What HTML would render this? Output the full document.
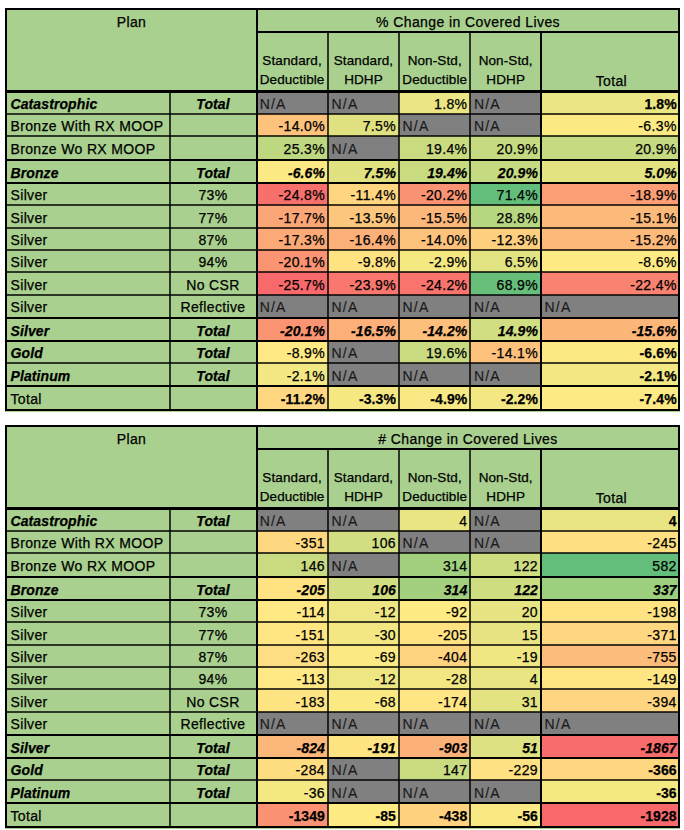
<!DOCTYPE html>
<html><head><meta charset="utf-8"><style>
html,body{margin:0;padding:0;background:#fff;width:684px;height:830px;overflow:hidden;position:relative}
.t{position:absolute;font-family:"Liberation Sans", sans-serif;color:#000;line-height:1.15;white-space:nowrap;-webkit-text-stroke:0.25px #000;}
</style></head><body>
<div style="position:absolute;left:5.00px;top:8.00px;width:675.00px;height:403.50px;background:#A9D08E;"></div>
<div style="position:absolute;left:256.20px;top:91.60px;width:71.80px;height:22.30px;background:#808080;"></div>
<div style="position:absolute;left:328.00px;top:91.60px;width:71.00px;height:22.30px;background:#808080;"></div>
<div style="position:absolute;left:399.00px;top:91.60px;width:71.40px;height:22.30px;background:#ebe583;"></div>
<div style="position:absolute;left:470.40px;top:91.60px;width:70.60px;height:22.30px;background:#808080;"></div>
<div style="position:absolute;left:541.00px;top:91.60px;width:137.70px;height:22.30px;background:#ebe583;"></div>
<div style="position:absolute;left:256.20px;top:113.90px;width:71.80px;height:22.10px;background:#fdc27c;"></div>
<div style="position:absolute;left:328.00px;top:113.90px;width:71.00px;height:22.10px;background:#e0e282;"></div>
<div style="position:absolute;left:399.00px;top:113.90px;width:71.40px;height:22.10px;background:#808080;"></div>
<div style="position:absolute;left:470.40px;top:113.90px;width:70.60px;height:22.10px;background:#808080;"></div>
<div style="position:absolute;left:541.00px;top:113.90px;width:137.70px;height:22.10px;background:#fbea84;"></div>
<div style="position:absolute;left:256.20px;top:136.00px;width:71.80px;height:23.90px;background:#bdd880;"></div>
<div style="position:absolute;left:328.00px;top:136.00px;width:71.00px;height:23.90px;background:#808080;"></div>
<div style="position:absolute;left:399.00px;top:136.00px;width:71.40px;height:23.90px;background:#c8db81;"></div>
<div style="position:absolute;left:470.40px;top:136.00px;width:70.60px;height:23.90px;background:#c5da81;"></div>
<div style="position:absolute;left:541.00px;top:136.00px;width:137.70px;height:23.90px;background:#c5da81;"></div>
<div style="position:absolute;left:256.20px;top:159.90px;width:71.80px;height:23.20px;background:#fbea84;"></div>
<div style="position:absolute;left:328.00px;top:159.90px;width:71.00px;height:23.20px;background:#e0e282;"></div>
<div style="position:absolute;left:399.00px;top:159.90px;width:71.40px;height:23.20px;background:#c8db81;"></div>
<div style="position:absolute;left:470.40px;top:159.90px;width:70.60px;height:23.20px;background:#c5da81;"></div>
<div style="position:absolute;left:541.00px;top:159.90px;width:137.70px;height:23.20px;background:#e4e382;"></div>
<div style="position:absolute;left:256.20px;top:183.10px;width:71.80px;height:22.10px;background:#f8706c;"></div>
<div style="position:absolute;left:328.00px;top:183.10px;width:71.00px;height:22.10px;background:#fed680;"></div>
<div style="position:absolute;left:399.00px;top:183.10px;width:71.40px;height:22.10px;background:#fa9373;"></div>
<div style="position:absolute;left:470.40px;top:183.10px;width:70.60px;height:22.10px;background:#63be7b;"></div>
<div style="position:absolute;left:541.00px;top:183.10px;width:137.70px;height:22.10px;background:#fb9d75;"></div>
<div style="position:absolute;left:256.20px;top:205.20px;width:71.80px;height:22.60px;background:#fba677;"></div>
<div style="position:absolute;left:328.00px;top:205.20px;width:71.00px;height:22.60px;background:#fdc67d;"></div>
<div style="position:absolute;left:399.00px;top:205.20px;width:71.40px;height:22.60px;background:#fcb77a;"></div>
<div style="position:absolute;left:470.40px;top:205.20px;width:70.60px;height:22.60px;background:#b6d680;"></div>
<div style="position:absolute;left:541.00px;top:205.20px;width:137.70px;height:22.60px;background:#fcba7a;"></div>
<div style="position:absolute;left:256.20px;top:227.80px;width:71.80px;height:22.10px;background:#fba977;"></div>
<div style="position:absolute;left:328.00px;top:227.80px;width:71.00px;height:22.10px;background:#fcb079;"></div>
<div style="position:absolute;left:399.00px;top:227.80px;width:71.40px;height:22.10px;background:#fdc27c;"></div>
<div style="position:absolute;left:470.40px;top:227.80px;width:70.60px;height:22.10px;background:#fdcf7f;"></div>
<div style="position:absolute;left:541.00px;top:227.80px;width:137.70px;height:22.10px;background:#fcb97a;"></div>
<div style="position:absolute;left:256.20px;top:249.90px;width:71.80px;height:22.50px;background:#fa9473;"></div>
<div style="position:absolute;left:328.00px;top:249.90px;width:71.00px;height:22.50px;background:#ffe282;"></div>
<div style="position:absolute;left:399.00px;top:249.90px;width:71.40px;height:22.50px;background:#f4e883;"></div>
<div style="position:absolute;left:470.40px;top:249.90px;width:70.60px;height:22.50px;background:#e2e382;"></div>
<div style="position:absolute;left:541.00px;top:249.90px;width:137.70px;height:22.50px;background:#ffeb84;"></div>
<div style="position:absolute;left:256.20px;top:272.40px;width:71.80px;height:22.25px;background:#f8696b;"></div>
<div style="position:absolute;left:328.00px;top:272.40px;width:71.00px;height:22.25px;background:#f9776e;"></div>
<div style="position:absolute;left:399.00px;top:272.40px;width:71.40px;height:22.25px;background:#f9746d;"></div>
<div style="position:absolute;left:470.40px;top:272.40px;width:70.60px;height:22.25px;background:#68bf7b;"></div>
<div style="position:absolute;left:541.00px;top:272.40px;width:137.70px;height:22.25px;background:#f98270;"></div>
<div style="position:absolute;left:256.20px;top:294.65px;width:71.80px;height:23.15px;background:#808080;"></div>
<div style="position:absolute;left:328.00px;top:294.65px;width:71.00px;height:23.15px;background:#808080;"></div>
<div style="position:absolute;left:399.00px;top:294.65px;width:71.40px;height:23.15px;background:#808080;"></div>
<div style="position:absolute;left:470.40px;top:294.65px;width:70.60px;height:23.15px;background:#808080;"></div>
<div style="position:absolute;left:541.00px;top:294.65px;width:137.70px;height:23.15px;background:#808080;"></div>
<div style="position:absolute;left:256.20px;top:317.80px;width:71.80px;height:23.20px;background:#fa9473;"></div>
<div style="position:absolute;left:328.00px;top:317.80px;width:71.00px;height:23.20px;background:#fcaf78;"></div>
<div style="position:absolute;left:399.00px;top:317.80px;width:71.40px;height:23.20px;background:#fdc07c;"></div>
<div style="position:absolute;left:470.40px;top:317.80px;width:70.60px;height:23.20px;background:#d1de81;"></div>
<div style="position:absolute;left:541.00px;top:317.80px;width:137.70px;height:23.20px;background:#fcb67a;"></div>
<div style="position:absolute;left:256.20px;top:341.00px;width:71.80px;height:22.20px;background:#ffe984;"></div>
<div style="position:absolute;left:328.00px;top:341.00px;width:71.00px;height:22.20px;background:#808080;"></div>
<div style="position:absolute;left:399.00px;top:341.00px;width:71.40px;height:22.20px;background:#c8db81;"></div>
<div style="position:absolute;left:470.40px;top:341.00px;width:70.60px;height:22.20px;background:#fdc17c;"></div>
<div style="position:absolute;left:541.00px;top:341.00px;width:137.70px;height:22.20px;background:#fbea84;"></div>
<div style="position:absolute;left:256.20px;top:363.20px;width:71.80px;height:22.90px;background:#f2e783;"></div>
<div style="position:absolute;left:328.00px;top:363.20px;width:71.00px;height:22.90px;background:#808080;"></div>
<div style="position:absolute;left:399.00px;top:363.20px;width:71.40px;height:22.90px;background:#808080;"></div>
<div style="position:absolute;left:470.40px;top:363.20px;width:70.60px;height:22.90px;background:#808080;"></div>
<div style="position:absolute;left:541.00px;top:363.20px;width:137.70px;height:22.90px;background:#f2e783;"></div>
<div style="position:absolute;left:256.20px;top:386.10px;width:71.80px;height:23.40px;background:#fed780;"></div>
<div style="position:absolute;left:328.00px;top:386.10px;width:71.00px;height:23.40px;background:#f5e883;"></div>
<div style="position:absolute;left:399.00px;top:386.10px;width:71.40px;height:23.40px;background:#f8e984;"></div>
<div style="position:absolute;left:470.40px;top:386.10px;width:70.60px;height:23.40px;background:#f3e783;"></div>
<div style="position:absolute;left:541.00px;top:386.10px;width:137.70px;height:23.40px;background:#fdea84;"></div>
<div class="t" style="left:7.00px;top:14.00px;width:249.00px;text-align:center;font-size:14px;font-weight:normal;font-style:normal;letter-spacing:0.35px;">Plan</div>
<div class="t" style="left:257.00px;top:14.00px;width:422.00px;text-align:center;font-size:14px;font-weight:normal;font-style:normal;letter-spacing:0.42px;">% Change in Covered Lives</div>
<div class="t" style="left:257.20px;top:53.26px;width:69.80px;text-align:center;font-size:13.5px;font-weight:normal;font-style:normal;letter-spacing:0.1px;">Standard,</div>
<div class="t" style="left:257.20px;top:72.16px;width:69.80px;text-align:center;font-size:13.5px;font-weight:normal;font-style:normal;letter-spacing:0.1px;">Deductible</div>
<div class="t" style="left:329.00px;top:53.26px;width:69.00px;text-align:center;font-size:13.5px;font-weight:normal;font-style:normal;letter-spacing:0.1px;">Standard,</div>
<div class="t" style="left:329.00px;top:72.16px;width:69.00px;text-align:center;font-size:13.5px;font-weight:normal;font-style:normal;letter-spacing:0.1px;">HDHP</div>
<div class="t" style="left:400.00px;top:53.26px;width:69.40px;text-align:center;font-size:13.5px;font-weight:normal;font-style:normal;letter-spacing:0.1px;">Non-Std,</div>
<div class="t" style="left:400.00px;top:72.16px;width:69.40px;text-align:center;font-size:13.5px;font-weight:normal;font-style:normal;letter-spacing:0.1px;">Deductible</div>
<div class="t" style="left:471.40px;top:53.26px;width:68.60px;text-align:center;font-size:13.5px;font-weight:normal;font-style:normal;letter-spacing:0.1px;">Non-Std,</div>
<div class="t" style="left:471.40px;top:72.16px;width:68.60px;text-align:center;font-size:13.5px;font-weight:normal;font-style:normal;letter-spacing:0.1px;">HDHP</div>
<div class="t" style="left:544.00px;top:72.90px;width:134.70px;text-align:center;font-size:14px;font-weight:normal;font-style:normal;letter-spacing:0.35px;">Total</div>
<div class="t" style="left:10.50px;top:95.85px;width:159.50px;text-align:left;font-size:14px;font-weight:bold;font-style:italic;letter-spacing:0.1px;">Catastrophic</div>
<div class="t" style="left:170.00px;top:95.85px;width:86.00px;text-align:center;font-size:14px;font-weight:bold;font-style:italic;letter-spacing:0.1px;">Total</div>
<div class="t" style="left:259.70px;top:95.85px;width:68.30px;text-align:left;font-size:14px;font-weight:normal;font-style:normal;letter-spacing:1.2px;color:#1a1a1a;-webkit-text-stroke:0.15px #1a1a1a">N/A</div>
<div class="t" style="left:331.50px;top:95.85px;width:67.50px;text-align:left;font-size:14px;font-weight:normal;font-style:normal;letter-spacing:1.2px;color:#1a1a1a;-webkit-text-stroke:0.15px #1a1a1a">N/A</div>
<div class="t" style="left:399.00px;top:95.85px;width:68.40px;text-align:right;font-size:14px;font-weight:normal;font-style:normal;letter-spacing:0.35px;">1.8%</div>
<div class="t" style="left:473.90px;top:95.85px;width:67.10px;text-align:left;font-size:14px;font-weight:normal;font-style:normal;letter-spacing:1.2px;color:#1a1a1a;-webkit-text-stroke:0.15px #1a1a1a">N/A</div>
<div class="t" style="left:541.00px;top:95.85px;width:135.70px;text-align:right;font-size:14px;font-weight:bold;font-style:normal;letter-spacing:0.1px;">1.8%</div>
<div class="t" style="left:10.50px;top:118.05px;width:159.50px;text-align:left;font-size:14px;font-weight:normal;font-style:normal;letter-spacing:0.35px;">Bronze With RX MOOP</div>
<div class="t" style="left:256.20px;top:118.05px;width:68.80px;text-align:right;font-size:14px;font-weight:normal;font-style:normal;letter-spacing:0.35px;">-14.0%</div>
<div class="t" style="left:328.00px;top:118.05px;width:68.00px;text-align:right;font-size:14px;font-weight:normal;font-style:normal;letter-spacing:0.35px;">7.5%</div>
<div class="t" style="left:402.50px;top:118.05px;width:67.90px;text-align:left;font-size:14px;font-weight:normal;font-style:normal;letter-spacing:1.2px;color:#1a1a1a;-webkit-text-stroke:0.15px #1a1a1a">N/A</div>
<div class="t" style="left:473.90px;top:118.05px;width:67.10px;text-align:left;font-size:14px;font-weight:normal;font-style:normal;letter-spacing:1.2px;color:#1a1a1a;-webkit-text-stroke:0.15px #1a1a1a">N/A</div>
<div class="t" style="left:541.00px;top:118.05px;width:135.70px;text-align:right;font-size:14px;font-weight:normal;font-style:normal;letter-spacing:0.35px;">-6.3%</div>
<div class="t" style="left:10.50px;top:141.05px;width:159.50px;text-align:left;font-size:14px;font-weight:normal;font-style:normal;letter-spacing:0.35px;">Bronze Wo RX MOOP</div>
<div class="t" style="left:256.20px;top:141.05px;width:68.80px;text-align:right;font-size:14px;font-weight:normal;font-style:normal;letter-spacing:0.35px;">25.3%</div>
<div class="t" style="left:331.50px;top:141.05px;width:67.50px;text-align:left;font-size:14px;font-weight:normal;font-style:normal;letter-spacing:1.2px;color:#1a1a1a;-webkit-text-stroke:0.15px #1a1a1a">N/A</div>
<div class="t" style="left:399.00px;top:141.05px;width:68.40px;text-align:right;font-size:14px;font-weight:normal;font-style:normal;letter-spacing:0.35px;">19.4%</div>
<div class="t" style="left:470.40px;top:141.05px;width:67.60px;text-align:right;font-size:14px;font-weight:normal;font-style:normal;letter-spacing:0.35px;">20.9%</div>
<div class="t" style="left:541.00px;top:141.05px;width:135.70px;text-align:right;font-size:14px;font-weight:normal;font-style:normal;letter-spacing:0.35px;">20.9%</div>
<div class="t" style="left:10.50px;top:164.60px;width:159.50px;text-align:left;font-size:14px;font-weight:bold;font-style:italic;letter-spacing:0.1px;">Bronze</div>
<div class="t" style="left:170.00px;top:164.60px;width:86.00px;text-align:center;font-size:14px;font-weight:bold;font-style:italic;letter-spacing:0.1px;">Total</div>
<div class="t" style="left:256.20px;top:164.60px;width:68.80px;text-align:right;font-size:14px;font-weight:bold;font-style:italic;letter-spacing:0.1px;">-6.6%</div>
<div class="t" style="left:328.00px;top:164.60px;width:68.00px;text-align:right;font-size:14px;font-weight:bold;font-style:italic;letter-spacing:0.1px;">7.5%</div>
<div class="t" style="left:399.00px;top:164.60px;width:68.40px;text-align:right;font-size:14px;font-weight:bold;font-style:italic;letter-spacing:0.1px;">19.4%</div>
<div class="t" style="left:470.40px;top:164.60px;width:67.60px;text-align:right;font-size:14px;font-weight:bold;font-style:italic;letter-spacing:0.1px;">20.9%</div>
<div class="t" style="left:541.00px;top:164.60px;width:135.70px;text-align:right;font-size:14px;font-weight:bold;font-style:italic;letter-spacing:0.1px;">5.0%</div>
<div class="t" style="left:10.50px;top:187.25px;width:159.50px;text-align:left;font-size:14px;font-weight:normal;font-style:normal;letter-spacing:0.35px;">Silver</div>
<div class="t" style="left:170.00px;top:187.25px;width:86.00px;text-align:center;font-size:14px;font-weight:normal;font-style:normal;letter-spacing:0.35px;">73%</div>
<div class="t" style="left:256.20px;top:187.25px;width:68.80px;text-align:right;font-size:14px;font-weight:normal;font-style:normal;letter-spacing:0.35px;">-24.8%</div>
<div class="t" style="left:328.00px;top:187.25px;width:68.00px;text-align:right;font-size:14px;font-weight:normal;font-style:normal;letter-spacing:0.35px;">-11.4%</div>
<div class="t" style="left:399.00px;top:187.25px;width:68.40px;text-align:right;font-size:14px;font-weight:normal;font-style:normal;letter-spacing:0.35px;">-20.2%</div>
<div class="t" style="left:470.40px;top:187.25px;width:67.60px;text-align:right;font-size:14px;font-weight:normal;font-style:normal;letter-spacing:0.35px;">71.4%</div>
<div class="t" style="left:541.00px;top:187.25px;width:135.70px;text-align:right;font-size:14px;font-weight:normal;font-style:normal;letter-spacing:0.35px;">-18.9%</div>
<div class="t" style="left:10.50px;top:209.60px;width:159.50px;text-align:left;font-size:14px;font-weight:normal;font-style:normal;letter-spacing:0.35px;">Silver</div>
<div class="t" style="left:170.00px;top:209.60px;width:86.00px;text-align:center;font-size:14px;font-weight:normal;font-style:normal;letter-spacing:0.35px;">77%</div>
<div class="t" style="left:256.20px;top:209.60px;width:68.80px;text-align:right;font-size:14px;font-weight:normal;font-style:normal;letter-spacing:0.35px;">-17.7%</div>
<div class="t" style="left:328.00px;top:209.60px;width:68.00px;text-align:right;font-size:14px;font-weight:normal;font-style:normal;letter-spacing:0.35px;">-13.5%</div>
<div class="t" style="left:399.00px;top:209.60px;width:68.40px;text-align:right;font-size:14px;font-weight:normal;font-style:normal;letter-spacing:0.35px;">-15.5%</div>
<div class="t" style="left:470.40px;top:209.60px;width:67.60px;text-align:right;font-size:14px;font-weight:normal;font-style:normal;letter-spacing:0.35px;">28.8%</div>
<div class="t" style="left:541.00px;top:209.60px;width:135.70px;text-align:right;font-size:14px;font-weight:normal;font-style:normal;letter-spacing:0.35px;">-15.1%</div>
<div class="t" style="left:10.50px;top:231.95px;width:159.50px;text-align:left;font-size:14px;font-weight:normal;font-style:normal;letter-spacing:0.35px;">Silver</div>
<div class="t" style="left:170.00px;top:231.95px;width:86.00px;text-align:center;font-size:14px;font-weight:normal;font-style:normal;letter-spacing:0.35px;">87%</div>
<div class="t" style="left:256.20px;top:231.95px;width:68.80px;text-align:right;font-size:14px;font-weight:normal;font-style:normal;letter-spacing:0.35px;">-17.3%</div>
<div class="t" style="left:328.00px;top:231.95px;width:68.00px;text-align:right;font-size:14px;font-weight:normal;font-style:normal;letter-spacing:0.35px;">-16.4%</div>
<div class="t" style="left:399.00px;top:231.95px;width:68.40px;text-align:right;font-size:14px;font-weight:normal;font-style:normal;letter-spacing:0.35px;">-14.0%</div>
<div class="t" style="left:470.40px;top:231.95px;width:67.60px;text-align:right;font-size:14px;font-weight:normal;font-style:normal;letter-spacing:0.35px;">-12.3%</div>
<div class="t" style="left:541.00px;top:231.95px;width:135.70px;text-align:right;font-size:14px;font-weight:normal;font-style:normal;letter-spacing:0.35px;">-15.2%</div>
<div class="t" style="left:10.50px;top:254.25px;width:159.50px;text-align:left;font-size:14px;font-weight:normal;font-style:normal;letter-spacing:0.35px;">Silver</div>
<div class="t" style="left:170.00px;top:254.25px;width:86.00px;text-align:center;font-size:14px;font-weight:normal;font-style:normal;letter-spacing:0.35px;">94%</div>
<div class="t" style="left:256.20px;top:254.25px;width:68.80px;text-align:right;font-size:14px;font-weight:normal;font-style:normal;letter-spacing:0.35px;">-20.1%</div>
<div class="t" style="left:328.00px;top:254.25px;width:68.00px;text-align:right;font-size:14px;font-weight:normal;font-style:normal;letter-spacing:0.35px;">-9.8%</div>
<div class="t" style="left:399.00px;top:254.25px;width:68.40px;text-align:right;font-size:14px;font-weight:normal;font-style:normal;letter-spacing:0.35px;">-2.9%</div>
<div class="t" style="left:470.40px;top:254.25px;width:67.60px;text-align:right;font-size:14px;font-weight:normal;font-style:normal;letter-spacing:0.35px;">6.5%</div>
<div class="t" style="left:541.00px;top:254.25px;width:135.70px;text-align:right;font-size:14px;font-weight:normal;font-style:normal;letter-spacing:0.35px;">-8.6%</div>
<div class="t" style="left:10.50px;top:276.62px;width:159.50px;text-align:left;font-size:14px;font-weight:normal;font-style:normal;letter-spacing:0.35px;">Silver</div>
<div class="t" style="left:170.00px;top:276.62px;width:86.00px;text-align:center;font-size:14px;font-weight:normal;font-style:normal;letter-spacing:0.35px;">No CSR</div>
<div class="t" style="left:256.20px;top:276.62px;width:68.80px;text-align:right;font-size:14px;font-weight:normal;font-style:normal;letter-spacing:0.35px;">-25.7%</div>
<div class="t" style="left:328.00px;top:276.62px;width:68.00px;text-align:right;font-size:14px;font-weight:normal;font-style:normal;letter-spacing:0.35px;">-23.9%</div>
<div class="t" style="left:399.00px;top:276.62px;width:68.40px;text-align:right;font-size:14px;font-weight:normal;font-style:normal;letter-spacing:0.35px;">-24.2%</div>
<div class="t" style="left:470.40px;top:276.62px;width:67.60px;text-align:right;font-size:14px;font-weight:normal;font-style:normal;letter-spacing:0.35px;">68.9%</div>
<div class="t" style="left:541.00px;top:276.62px;width:135.70px;text-align:right;font-size:14px;font-weight:normal;font-style:normal;letter-spacing:0.35px;">-22.4%</div>
<div class="t" style="left:10.50px;top:299.32px;width:159.50px;text-align:left;font-size:14px;font-weight:normal;font-style:normal;letter-spacing:0.35px;">Silver</div>
<div class="t" style="left:170.00px;top:299.32px;width:86.00px;text-align:center;font-size:14px;font-weight:normal;font-style:normal;letter-spacing:0.35px;">Reflective</div>
<div class="t" style="left:259.70px;top:299.32px;width:68.30px;text-align:left;font-size:14px;font-weight:normal;font-style:normal;letter-spacing:1.2px;color:#1a1a1a;-webkit-text-stroke:0.15px #1a1a1a">N/A</div>
<div class="t" style="left:331.50px;top:299.32px;width:67.50px;text-align:left;font-size:14px;font-weight:normal;font-style:normal;letter-spacing:1.2px;color:#1a1a1a;-webkit-text-stroke:0.15px #1a1a1a">N/A</div>
<div class="t" style="left:402.50px;top:299.32px;width:67.90px;text-align:left;font-size:14px;font-weight:normal;font-style:normal;letter-spacing:1.2px;color:#1a1a1a;-webkit-text-stroke:0.15px #1a1a1a">N/A</div>
<div class="t" style="left:473.90px;top:299.32px;width:67.10px;text-align:left;font-size:14px;font-weight:normal;font-style:normal;letter-spacing:1.2px;color:#1a1a1a;-webkit-text-stroke:0.15px #1a1a1a">N/A</div>
<div class="t" style="left:544.50px;top:299.32px;width:134.20px;text-align:left;font-size:14px;font-weight:normal;font-style:normal;letter-spacing:1.2px;color:#1a1a1a;-webkit-text-stroke:0.15px #1a1a1a">N/A</div>
<div class="t" style="left:10.50px;top:322.50px;width:159.50px;text-align:left;font-size:14px;font-weight:bold;font-style:italic;letter-spacing:0.1px;">Silver</div>
<div class="t" style="left:170.00px;top:322.50px;width:86.00px;text-align:center;font-size:14px;font-weight:bold;font-style:italic;letter-spacing:0.1px;">Total</div>
<div class="t" style="left:256.20px;top:322.50px;width:68.80px;text-align:right;font-size:14px;font-weight:bold;font-style:italic;letter-spacing:0.1px;">-20.1%</div>
<div class="t" style="left:328.00px;top:322.50px;width:68.00px;text-align:right;font-size:14px;font-weight:bold;font-style:italic;letter-spacing:0.1px;">-16.5%</div>
<div class="t" style="left:399.00px;top:322.50px;width:68.40px;text-align:right;font-size:14px;font-weight:bold;font-style:italic;letter-spacing:0.1px;">-14.2%</div>
<div class="t" style="left:470.40px;top:322.50px;width:67.60px;text-align:right;font-size:14px;font-weight:bold;font-style:italic;letter-spacing:0.1px;">14.9%</div>
<div class="t" style="left:541.00px;top:322.50px;width:135.70px;text-align:right;font-size:14px;font-weight:bold;font-style:italic;letter-spacing:0.1px;">-15.6%</div>
<div class="t" style="left:10.50px;top:345.20px;width:159.50px;text-align:left;font-size:14px;font-weight:bold;font-style:italic;letter-spacing:0.1px;">Gold</div>
<div class="t" style="left:170.00px;top:345.20px;width:86.00px;text-align:center;font-size:14px;font-weight:bold;font-style:italic;letter-spacing:0.1px;">Total</div>
<div class="t" style="left:256.20px;top:345.20px;width:68.80px;text-align:right;font-size:14px;font-weight:normal;font-style:normal;letter-spacing:0.35px;">-8.9%</div>
<div class="t" style="left:331.50px;top:345.20px;width:67.50px;text-align:left;font-size:14px;font-weight:normal;font-style:normal;letter-spacing:1.2px;color:#1a1a1a;-webkit-text-stroke:0.15px #1a1a1a">N/A</div>
<div class="t" style="left:399.00px;top:345.20px;width:68.40px;text-align:right;font-size:14px;font-weight:normal;font-style:normal;letter-spacing:0.35px;">19.6%</div>
<div class="t" style="left:470.40px;top:345.20px;width:67.60px;text-align:right;font-size:14px;font-weight:normal;font-style:normal;letter-spacing:0.35px;">-14.1%</div>
<div class="t" style="left:541.00px;top:345.20px;width:135.70px;text-align:right;font-size:14px;font-weight:bold;font-style:normal;letter-spacing:0.1px;">-6.6%</div>
<div class="t" style="left:10.50px;top:367.75px;width:159.50px;text-align:left;font-size:14px;font-weight:bold;font-style:italic;letter-spacing:0.1px;">Platinum</div>
<div class="t" style="left:170.00px;top:367.75px;width:86.00px;text-align:center;font-size:14px;font-weight:bold;font-style:italic;letter-spacing:0.1px;">Total</div>
<div class="t" style="left:256.20px;top:367.75px;width:68.80px;text-align:right;font-size:14px;font-weight:normal;font-style:normal;letter-spacing:0.35px;">-2.1%</div>
<div class="t" style="left:331.50px;top:367.75px;width:67.50px;text-align:left;font-size:14px;font-weight:normal;font-style:normal;letter-spacing:1.2px;color:#1a1a1a;-webkit-text-stroke:0.15px #1a1a1a">N/A</div>
<div class="t" style="left:402.50px;top:367.75px;width:67.90px;text-align:left;font-size:14px;font-weight:normal;font-style:normal;letter-spacing:1.2px;color:#1a1a1a;-webkit-text-stroke:0.15px #1a1a1a">N/A</div>
<div class="t" style="left:473.90px;top:367.75px;width:67.10px;text-align:left;font-size:14px;font-weight:normal;font-style:normal;letter-spacing:1.2px;color:#1a1a1a;-webkit-text-stroke:0.15px #1a1a1a">N/A</div>
<div class="t" style="left:541.00px;top:367.75px;width:135.70px;text-align:right;font-size:14px;font-weight:bold;font-style:normal;letter-spacing:0.1px;">-2.1%</div>
<div class="t" style="left:10.50px;top:390.90px;width:159.50px;text-align:left;font-size:14px;font-weight:normal;font-style:normal;letter-spacing:0.35px;">Total</div>
<div class="t" style="left:256.20px;top:390.90px;width:68.80px;text-align:right;font-size:14px;font-weight:bold;font-style:normal;letter-spacing:0.1px;">-11.2%</div>
<div class="t" style="left:328.00px;top:390.90px;width:68.00px;text-align:right;font-size:14px;font-weight:bold;font-style:normal;letter-spacing:0.1px;">-3.3%</div>
<div class="t" style="left:399.00px;top:390.90px;width:68.40px;text-align:right;font-size:14px;font-weight:bold;font-style:normal;letter-spacing:0.1px;">-4.9%</div>
<div class="t" style="left:470.40px;top:390.90px;width:67.60px;text-align:right;font-size:14px;font-weight:bold;font-style:normal;letter-spacing:0.1px;">-2.2%</div>
<div class="t" style="left:541.00px;top:390.90px;width:135.70px;text-align:right;font-size:14px;font-weight:bold;font-style:normal;letter-spacing:0.1px;">-7.4%</div>
<div style="position:absolute;left:5.00px;top:8.00px;width:675.00px;height:2.00px;background:#000;"></div>
<div style="position:absolute;left:5.00px;top:408.70px;width:675.00px;height:2.60px;background:#000;"></div>
<div style="position:absolute;left:5.00px;top:8.00px;width:2.00px;height:403.30px;background:#000;"></div>
<div style="position:absolute;left:677.70px;top:8.00px;width:2.00px;height:403.30px;background:#000;"></div>
<div style="position:absolute;left:256.70px;top:31.00px;width:421.30px;height:2.00px;background:#000;"></div>
<div style="position:absolute;left:5.00px;top:90.40px;width:675.00px;height:2.40px;background:#000;"></div>
<div style="position:absolute;left:5.00px;top:112.90px;width:675.00px;height:2.00px;background:rgba(0,0,0,0.74);"></div>
<div style="position:absolute;left:5.00px;top:135.00px;width:675.00px;height:2.00px;background:rgba(0,0,0,0.74);"></div>
<div style="position:absolute;left:5.00px;top:158.90px;width:675.00px;height:2.00px;background:#000;"></div>
<div style="position:absolute;left:5.00px;top:182.10px;width:675.00px;height:2.00px;background:#000;"></div>
<div style="position:absolute;left:5.00px;top:204.20px;width:675.00px;height:2.00px;background:rgba(0,0,0,0.74);"></div>
<div style="position:absolute;left:5.00px;top:226.80px;width:675.00px;height:2.00px;background:rgba(0,0,0,0.74);"></div>
<div style="position:absolute;left:5.00px;top:248.90px;width:675.00px;height:2.00px;background:rgba(0,0,0,0.74);"></div>
<div style="position:absolute;left:5.00px;top:271.40px;width:675.00px;height:2.00px;background:rgba(0,0,0,0.74);"></div>
<div style="position:absolute;left:5.00px;top:293.65px;width:675.00px;height:2.00px;background:rgba(0,0,0,0.74);"></div>
<div style="position:absolute;left:5.00px;top:316.80px;width:675.00px;height:2.00px;background:#000;"></div>
<div style="position:absolute;left:5.00px;top:340.00px;width:675.00px;height:2.00px;background:#000;"></div>
<div style="position:absolute;left:5.00px;top:362.20px;width:675.00px;height:2.00px;background:rgba(0,0,0,0.74);"></div>
<div style="position:absolute;left:5.00px;top:385.10px;width:675.00px;height:2.00px;background:#000;"></div>
<div style="position:absolute;left:169.10px;top:91.60px;width:2.00px;height:317.90px;background:rgba(0,0,0,0.74);"></div>
<div style="position:absolute;left:255.70px;top:8.00px;width:2.00px;height:401.50px;background:#000;"></div>
<div style="position:absolute;left:327.00px;top:31.00px;width:2.00px;height:378.50px;background:rgba(0,0,0,0.74);"></div>
<div style="position:absolute;left:398.00px;top:31.00px;width:2.00px;height:378.50px;background:rgba(0,0,0,0.74);"></div>
<div style="position:absolute;left:469.40px;top:31.00px;width:2.00px;height:378.50px;background:rgba(0,0,0,0.74);"></div>
<div style="position:absolute;left:540.00px;top:31.00px;width:2.00px;height:378.50px;background:#000;"></div>
<div style="position:absolute;left:5.00px;top:425.00px;width:675.00px;height:403.50px;background:#A9D08E;"></div>
<div style="position:absolute;left:256.20px;top:508.60px;width:71.80px;height:22.30px;background:#808080;"></div>
<div style="position:absolute;left:328.00px;top:508.60px;width:71.00px;height:22.30px;background:#808080;"></div>
<div style="position:absolute;left:399.00px;top:508.60px;width:71.40px;height:22.30px;background:#eae583;"></div>
<div style="position:absolute;left:470.40px;top:508.60px;width:70.60px;height:22.30px;background:#808080;"></div>
<div style="position:absolute;left:541.00px;top:508.60px;width:137.70px;height:22.30px;background:#eae583;"></div>
<div style="position:absolute;left:256.20px;top:530.90px;width:71.80px;height:22.10px;background:#fed880;"></div>
<div style="position:absolute;left:328.00px;top:530.90px;width:71.00px;height:22.10px;background:#d2de81;"></div>
<div style="position:absolute;left:399.00px;top:530.90px;width:71.40px;height:22.10px;background:#808080;"></div>
<div style="position:absolute;left:470.40px;top:530.90px;width:70.60px;height:22.10px;background:#808080;"></div>
<div style="position:absolute;left:541.00px;top:530.90px;width:137.70px;height:22.10px;background:#fee082;"></div>
<div style="position:absolute;left:256.20px;top:553.00px;width:71.80px;height:23.90px;background:#c9db81;"></div>
<div style="position:absolute;left:328.00px;top:553.00px;width:71.00px;height:23.90px;background:#808080;"></div>
<div style="position:absolute;left:399.00px;top:553.00px;width:71.40px;height:23.90px;background:#a2d07f;"></div>
<div style="position:absolute;left:470.40px;top:553.00px;width:70.60px;height:23.90px;background:#cfdd81;"></div>
<div style="position:absolute;left:541.00px;top:553.00px;width:137.70px;height:23.90px;background:#63be7b;"></div>
<div style="position:absolute;left:256.20px;top:576.90px;width:71.80px;height:23.20px;background:#ffe382;"></div>
<div style="position:absolute;left:328.00px;top:576.90px;width:71.00px;height:23.20px;background:#d2de81;"></div>
<div style="position:absolute;left:399.00px;top:576.90px;width:71.40px;height:23.20px;background:#a2d07f;"></div>
<div style="position:absolute;left:470.40px;top:576.90px;width:70.60px;height:23.20px;background:#cfdd81;"></div>
<div style="position:absolute;left:541.00px;top:576.90px;width:137.70px;height:23.20px;background:#9ccf7e;"></div>
<div style="position:absolute;left:256.20px;top:600.10px;width:71.80px;height:22.10px;background:#ffe984;"></div>
<div style="position:absolute;left:328.00px;top:600.10px;width:71.00px;height:22.10px;background:#eee683;"></div>
<div style="position:absolute;left:399.00px;top:600.10px;width:71.40px;height:22.10px;background:#ffeb84;"></div>
<div style="position:absolute;left:470.40px;top:600.10px;width:70.60px;height:22.10px;background:#e6e483;"></div>
<div style="position:absolute;left:541.00px;top:600.10px;width:137.70px;height:22.10px;background:#ffe382;"></div>
<div style="position:absolute;left:256.20px;top:622.20px;width:71.80px;height:22.60px;background:#ffe683;"></div>
<div style="position:absolute;left:328.00px;top:622.20px;width:71.00px;height:22.60px;background:#f2e783;"></div>
<div style="position:absolute;left:399.00px;top:622.20px;width:71.40px;height:22.60px;background:#ffe382;"></div>
<div style="position:absolute;left:470.40px;top:622.20px;width:70.60px;height:22.60px;background:#e8e483;"></div>
<div style="position:absolute;left:541.00px;top:622.20px;width:137.70px;height:22.60px;background:#fed780;"></div>
<div style="position:absolute;left:256.20px;top:644.80px;width:71.80px;height:22.10px;background:#fede82;"></div>
<div style="position:absolute;left:328.00px;top:644.80px;width:71.00px;height:22.10px;background:#fbea84;"></div>
<div style="position:absolute;left:399.00px;top:644.80px;width:71.40px;height:22.10px;background:#fed480;"></div>
<div style="position:absolute;left:470.40px;top:644.80px;width:70.60px;height:22.10px;background:#f0e783;"></div>
<div style="position:absolute;left:541.00px;top:644.80px;width:137.70px;height:22.10px;background:#fcbc7b;"></div>
<div style="position:absolute;left:256.20px;top:666.90px;width:71.80px;height:22.50px;background:#ffe984;"></div>
<div style="position:absolute;left:328.00px;top:666.90px;width:71.00px;height:22.50px;background:#eee683;"></div>
<div style="position:absolute;left:399.00px;top:666.90px;width:71.40px;height:22.50px;background:#f2e783;"></div>
<div style="position:absolute;left:470.40px;top:666.90px;width:70.60px;height:22.50px;background:#eae583;"></div>
<div style="position:absolute;left:541.00px;top:666.90px;width:137.70px;height:22.50px;background:#ffe683;"></div>
<div style="position:absolute;left:256.20px;top:689.40px;width:71.80px;height:22.25px;background:#ffe483;"></div>
<div style="position:absolute;left:328.00px;top:689.40px;width:71.00px;height:22.25px;background:#fbea84;"></div>
<div style="position:absolute;left:399.00px;top:689.40px;width:71.40px;height:22.25px;background:#ffe583;"></div>
<div style="position:absolute;left:470.40px;top:689.40px;width:70.60px;height:22.25px;background:#e4e382;"></div>
<div style="position:absolute;left:541.00px;top:689.40px;width:137.70px;height:22.25px;background:#fed580;"></div>
<div style="position:absolute;left:256.20px;top:711.65px;width:71.80px;height:23.15px;background:#808080;"></div>
<div style="position:absolute;left:328.00px;top:711.65px;width:71.00px;height:23.15px;background:#808080;"></div>
<div style="position:absolute;left:399.00px;top:711.65px;width:71.40px;height:23.15px;background:#808080;"></div>
<div style="position:absolute;left:470.40px;top:711.65px;width:70.60px;height:23.15px;background:#808080;"></div>
<div style="position:absolute;left:541.00px;top:711.65px;width:137.70px;height:23.15px;background:#808080;"></div>
<div style="position:absolute;left:256.20px;top:734.80px;width:71.80px;height:23.20px;background:#fcb77a;"></div>
<div style="position:absolute;left:328.00px;top:734.80px;width:71.00px;height:23.20px;background:#ffe483;"></div>
<div style="position:absolute;left:399.00px;top:734.80px;width:71.40px;height:23.20px;background:#fcb179;"></div>
<div style="position:absolute;left:470.40px;top:734.80px;width:70.60px;height:23.20px;background:#dfe282;"></div>
<div style="position:absolute;left:541.00px;top:734.80px;width:137.70px;height:23.20px;background:#f86d6c;"></div>
<div style="position:absolute;left:256.20px;top:758.00px;width:71.80px;height:22.20px;background:#fedd81;"></div>
<div style="position:absolute;left:328.00px;top:758.00px;width:71.00px;height:22.20px;background:#808080;"></div>
<div style="position:absolute;left:399.00px;top:758.00px;width:71.40px;height:22.20px;background:#c9db81;"></div>
<div style="position:absolute;left:470.40px;top:758.00px;width:70.60px;height:22.20px;background:#fee182;"></div>
<div style="position:absolute;left:541.00px;top:758.00px;width:137.70px;height:22.20px;background:#fed780;"></div>
<div style="position:absolute;left:256.20px;top:780.20px;width:71.80px;height:22.90px;background:#f4e883;"></div>
<div style="position:absolute;left:328.00px;top:780.20px;width:71.00px;height:22.90px;background:#808080;"></div>
<div style="position:absolute;left:399.00px;top:780.20px;width:71.40px;height:22.90px;background:#808080;"></div>
<div style="position:absolute;left:470.40px;top:780.20px;width:70.60px;height:22.90px;background:#808080;"></div>
<div style="position:absolute;left:541.00px;top:780.20px;width:137.70px;height:22.90px;background:#f4e883;"></div>
<div style="position:absolute;left:256.20px;top:803.10px;width:71.80px;height:23.40px;background:#fa9273;"></div>
<div style="position:absolute;left:328.00px;top:803.10px;width:71.00px;height:23.40px;background:#ffeb84;"></div>
<div style="position:absolute;left:399.00px;top:803.10px;width:71.40px;height:23.40px;background:#fed27f;"></div>
<div style="position:absolute;left:470.40px;top:803.10px;width:70.60px;height:23.40px;background:#f8e984;"></div>
<div style="position:absolute;left:541.00px;top:803.10px;width:137.70px;height:23.40px;background:#f8696b;"></div>
<div class="t" style="left:7.00px;top:431.00px;width:249.00px;text-align:center;font-size:14px;font-weight:normal;font-style:normal;letter-spacing:0.35px;">Plan</div>
<div class="t" style="left:257.00px;top:431.00px;width:422.00px;text-align:center;font-size:14px;font-weight:normal;font-style:normal;letter-spacing:0.42px;"># Change in Covered Lives</div>
<div class="t" style="left:257.20px;top:470.26px;width:69.80px;text-align:center;font-size:13.5px;font-weight:normal;font-style:normal;letter-spacing:0.1px;">Standard,</div>
<div class="t" style="left:257.20px;top:489.16px;width:69.80px;text-align:center;font-size:13.5px;font-weight:normal;font-style:normal;letter-spacing:0.1px;">Deductible</div>
<div class="t" style="left:329.00px;top:470.26px;width:69.00px;text-align:center;font-size:13.5px;font-weight:normal;font-style:normal;letter-spacing:0.1px;">Standard,</div>
<div class="t" style="left:329.00px;top:489.16px;width:69.00px;text-align:center;font-size:13.5px;font-weight:normal;font-style:normal;letter-spacing:0.1px;">HDHP</div>
<div class="t" style="left:400.00px;top:470.26px;width:69.40px;text-align:center;font-size:13.5px;font-weight:normal;font-style:normal;letter-spacing:0.1px;">Non-Std,</div>
<div class="t" style="left:400.00px;top:489.16px;width:69.40px;text-align:center;font-size:13.5px;font-weight:normal;font-style:normal;letter-spacing:0.1px;">Deductible</div>
<div class="t" style="left:471.40px;top:470.26px;width:68.60px;text-align:center;font-size:13.5px;font-weight:normal;font-style:normal;letter-spacing:0.1px;">Non-Std,</div>
<div class="t" style="left:471.40px;top:489.16px;width:68.60px;text-align:center;font-size:13.5px;font-weight:normal;font-style:normal;letter-spacing:0.1px;">HDHP</div>
<div class="t" style="left:544.00px;top:489.90px;width:134.70px;text-align:center;font-size:14px;font-weight:normal;font-style:normal;letter-spacing:0.35px;">Total</div>
<div class="t" style="left:10.50px;top:512.85px;width:159.50px;text-align:left;font-size:14px;font-weight:bold;font-style:italic;letter-spacing:0.1px;">Catastrophic</div>
<div class="t" style="left:170.00px;top:512.85px;width:86.00px;text-align:center;font-size:14px;font-weight:bold;font-style:italic;letter-spacing:0.1px;">Total</div>
<div class="t" style="left:259.70px;top:512.85px;width:68.30px;text-align:left;font-size:14px;font-weight:normal;font-style:normal;letter-spacing:1.2px;color:#1a1a1a;-webkit-text-stroke:0.15px #1a1a1a">N/A</div>
<div class="t" style="left:331.50px;top:512.85px;width:67.50px;text-align:left;font-size:14px;font-weight:normal;font-style:normal;letter-spacing:1.2px;color:#1a1a1a;-webkit-text-stroke:0.15px #1a1a1a">N/A</div>
<div class="t" style="left:399.00px;top:512.85px;width:68.40px;text-align:right;font-size:14px;font-weight:normal;font-style:normal;letter-spacing:0.35px;">4</div>
<div class="t" style="left:473.90px;top:512.85px;width:67.10px;text-align:left;font-size:14px;font-weight:normal;font-style:normal;letter-spacing:1.2px;color:#1a1a1a;-webkit-text-stroke:0.15px #1a1a1a">N/A</div>
<div class="t" style="left:541.00px;top:512.85px;width:135.70px;text-align:right;font-size:14px;font-weight:bold;font-style:normal;letter-spacing:0.1px;">4</div>
<div class="t" style="left:10.50px;top:535.05px;width:159.50px;text-align:left;font-size:14px;font-weight:normal;font-style:normal;letter-spacing:0.35px;">Bronze With RX MOOP</div>
<div class="t" style="left:256.20px;top:535.05px;width:68.80px;text-align:right;font-size:14px;font-weight:normal;font-style:normal;letter-spacing:0.35px;">-351</div>
<div class="t" style="left:328.00px;top:535.05px;width:68.00px;text-align:right;font-size:14px;font-weight:normal;font-style:normal;letter-spacing:0.35px;">106</div>
<div class="t" style="left:402.50px;top:535.05px;width:67.90px;text-align:left;font-size:14px;font-weight:normal;font-style:normal;letter-spacing:1.2px;color:#1a1a1a;-webkit-text-stroke:0.15px #1a1a1a">N/A</div>
<div class="t" style="left:473.90px;top:535.05px;width:67.10px;text-align:left;font-size:14px;font-weight:normal;font-style:normal;letter-spacing:1.2px;color:#1a1a1a;-webkit-text-stroke:0.15px #1a1a1a">N/A</div>
<div class="t" style="left:541.00px;top:535.05px;width:135.70px;text-align:right;font-size:14px;font-weight:normal;font-style:normal;letter-spacing:0.35px;">-245</div>
<div class="t" style="left:10.50px;top:558.05px;width:159.50px;text-align:left;font-size:14px;font-weight:normal;font-style:normal;letter-spacing:0.35px;">Bronze Wo RX MOOP</div>
<div class="t" style="left:256.20px;top:558.05px;width:68.80px;text-align:right;font-size:14px;font-weight:normal;font-style:normal;letter-spacing:0.35px;">146</div>
<div class="t" style="left:331.50px;top:558.05px;width:67.50px;text-align:left;font-size:14px;font-weight:normal;font-style:normal;letter-spacing:1.2px;color:#1a1a1a;-webkit-text-stroke:0.15px #1a1a1a">N/A</div>
<div class="t" style="left:399.00px;top:558.05px;width:68.40px;text-align:right;font-size:14px;font-weight:normal;font-style:normal;letter-spacing:0.35px;">314</div>
<div class="t" style="left:470.40px;top:558.05px;width:67.60px;text-align:right;font-size:14px;font-weight:normal;font-style:normal;letter-spacing:0.35px;">122</div>
<div class="t" style="left:541.00px;top:558.05px;width:135.70px;text-align:right;font-size:14px;font-weight:normal;font-style:normal;letter-spacing:0.35px;">582</div>
<div class="t" style="left:10.50px;top:581.60px;width:159.50px;text-align:left;font-size:14px;font-weight:bold;font-style:italic;letter-spacing:0.1px;">Bronze</div>
<div class="t" style="left:170.00px;top:581.60px;width:86.00px;text-align:center;font-size:14px;font-weight:bold;font-style:italic;letter-spacing:0.1px;">Total</div>
<div class="t" style="left:256.20px;top:581.60px;width:68.80px;text-align:right;font-size:14px;font-weight:bold;font-style:italic;letter-spacing:0.1px;">-205</div>
<div class="t" style="left:328.00px;top:581.60px;width:68.00px;text-align:right;font-size:14px;font-weight:bold;font-style:italic;letter-spacing:0.1px;">106</div>
<div class="t" style="left:399.00px;top:581.60px;width:68.40px;text-align:right;font-size:14px;font-weight:bold;font-style:italic;letter-spacing:0.1px;">314</div>
<div class="t" style="left:470.40px;top:581.60px;width:67.60px;text-align:right;font-size:14px;font-weight:bold;font-style:italic;letter-spacing:0.1px;">122</div>
<div class="t" style="left:541.00px;top:581.60px;width:135.70px;text-align:right;font-size:14px;font-weight:bold;font-style:italic;letter-spacing:0.1px;">337</div>
<div class="t" style="left:10.50px;top:604.25px;width:159.50px;text-align:left;font-size:14px;font-weight:normal;font-style:normal;letter-spacing:0.35px;">Silver</div>
<div class="t" style="left:170.00px;top:604.25px;width:86.00px;text-align:center;font-size:14px;font-weight:normal;font-style:normal;letter-spacing:0.35px;">73%</div>
<div class="t" style="left:256.20px;top:604.25px;width:68.80px;text-align:right;font-size:14px;font-weight:normal;font-style:normal;letter-spacing:0.35px;">-114</div>
<div class="t" style="left:328.00px;top:604.25px;width:68.00px;text-align:right;font-size:14px;font-weight:normal;font-style:normal;letter-spacing:0.35px;">-12</div>
<div class="t" style="left:399.00px;top:604.25px;width:68.40px;text-align:right;font-size:14px;font-weight:normal;font-style:normal;letter-spacing:0.35px;">-92</div>
<div class="t" style="left:470.40px;top:604.25px;width:67.60px;text-align:right;font-size:14px;font-weight:normal;font-style:normal;letter-spacing:0.35px;">20</div>
<div class="t" style="left:541.00px;top:604.25px;width:135.70px;text-align:right;font-size:14px;font-weight:normal;font-style:normal;letter-spacing:0.35px;">-198</div>
<div class="t" style="left:10.50px;top:626.60px;width:159.50px;text-align:left;font-size:14px;font-weight:normal;font-style:normal;letter-spacing:0.35px;">Silver</div>
<div class="t" style="left:170.00px;top:626.60px;width:86.00px;text-align:center;font-size:14px;font-weight:normal;font-style:normal;letter-spacing:0.35px;">77%</div>
<div class="t" style="left:256.20px;top:626.60px;width:68.80px;text-align:right;font-size:14px;font-weight:normal;font-style:normal;letter-spacing:0.35px;">-151</div>
<div class="t" style="left:328.00px;top:626.60px;width:68.00px;text-align:right;font-size:14px;font-weight:normal;font-style:normal;letter-spacing:0.35px;">-30</div>
<div class="t" style="left:399.00px;top:626.60px;width:68.40px;text-align:right;font-size:14px;font-weight:normal;font-style:normal;letter-spacing:0.35px;">-205</div>
<div class="t" style="left:470.40px;top:626.60px;width:67.60px;text-align:right;font-size:14px;font-weight:normal;font-style:normal;letter-spacing:0.35px;">15</div>
<div class="t" style="left:541.00px;top:626.60px;width:135.70px;text-align:right;font-size:14px;font-weight:normal;font-style:normal;letter-spacing:0.35px;">-371</div>
<div class="t" style="left:10.50px;top:648.95px;width:159.50px;text-align:left;font-size:14px;font-weight:normal;font-style:normal;letter-spacing:0.35px;">Silver</div>
<div class="t" style="left:170.00px;top:648.95px;width:86.00px;text-align:center;font-size:14px;font-weight:normal;font-style:normal;letter-spacing:0.35px;">87%</div>
<div class="t" style="left:256.20px;top:648.95px;width:68.80px;text-align:right;font-size:14px;font-weight:normal;font-style:normal;letter-spacing:0.35px;">-263</div>
<div class="t" style="left:328.00px;top:648.95px;width:68.00px;text-align:right;font-size:14px;font-weight:normal;font-style:normal;letter-spacing:0.35px;">-69</div>
<div class="t" style="left:399.00px;top:648.95px;width:68.40px;text-align:right;font-size:14px;font-weight:normal;font-style:normal;letter-spacing:0.35px;">-404</div>
<div class="t" style="left:470.40px;top:648.95px;width:67.60px;text-align:right;font-size:14px;font-weight:normal;font-style:normal;letter-spacing:0.35px;">-19</div>
<div class="t" style="left:541.00px;top:648.95px;width:135.70px;text-align:right;font-size:14px;font-weight:normal;font-style:normal;letter-spacing:0.35px;">-755</div>
<div class="t" style="left:10.50px;top:671.25px;width:159.50px;text-align:left;font-size:14px;font-weight:normal;font-style:normal;letter-spacing:0.35px;">Silver</div>
<div class="t" style="left:170.00px;top:671.25px;width:86.00px;text-align:center;font-size:14px;font-weight:normal;font-style:normal;letter-spacing:0.35px;">94%</div>
<div class="t" style="left:256.20px;top:671.25px;width:68.80px;text-align:right;font-size:14px;font-weight:normal;font-style:normal;letter-spacing:0.35px;">-113</div>
<div class="t" style="left:328.00px;top:671.25px;width:68.00px;text-align:right;font-size:14px;font-weight:normal;font-style:normal;letter-spacing:0.35px;">-12</div>
<div class="t" style="left:399.00px;top:671.25px;width:68.40px;text-align:right;font-size:14px;font-weight:normal;font-style:normal;letter-spacing:0.35px;">-28</div>
<div class="t" style="left:470.40px;top:671.25px;width:67.60px;text-align:right;font-size:14px;font-weight:normal;font-style:normal;letter-spacing:0.35px;">4</div>
<div class="t" style="left:541.00px;top:671.25px;width:135.70px;text-align:right;font-size:14px;font-weight:normal;font-style:normal;letter-spacing:0.35px;">-149</div>
<div class="t" style="left:10.50px;top:693.62px;width:159.50px;text-align:left;font-size:14px;font-weight:normal;font-style:normal;letter-spacing:0.35px;">Silver</div>
<div class="t" style="left:170.00px;top:693.62px;width:86.00px;text-align:center;font-size:14px;font-weight:normal;font-style:normal;letter-spacing:0.35px;">No CSR</div>
<div class="t" style="left:256.20px;top:693.62px;width:68.80px;text-align:right;font-size:14px;font-weight:normal;font-style:normal;letter-spacing:0.35px;">-183</div>
<div class="t" style="left:328.00px;top:693.62px;width:68.00px;text-align:right;font-size:14px;font-weight:normal;font-style:normal;letter-spacing:0.35px;">-68</div>
<div class="t" style="left:399.00px;top:693.62px;width:68.40px;text-align:right;font-size:14px;font-weight:normal;font-style:normal;letter-spacing:0.35px;">-174</div>
<div class="t" style="left:470.40px;top:693.62px;width:67.60px;text-align:right;font-size:14px;font-weight:normal;font-style:normal;letter-spacing:0.35px;">31</div>
<div class="t" style="left:541.00px;top:693.62px;width:135.70px;text-align:right;font-size:14px;font-weight:normal;font-style:normal;letter-spacing:0.35px;">-394</div>
<div class="t" style="left:10.50px;top:716.32px;width:159.50px;text-align:left;font-size:14px;font-weight:normal;font-style:normal;letter-spacing:0.35px;">Silver</div>
<div class="t" style="left:170.00px;top:716.32px;width:86.00px;text-align:center;font-size:14px;font-weight:normal;font-style:normal;letter-spacing:0.35px;">Reflective</div>
<div class="t" style="left:259.70px;top:716.32px;width:68.30px;text-align:left;font-size:14px;font-weight:normal;font-style:normal;letter-spacing:1.2px;color:#1a1a1a;-webkit-text-stroke:0.15px #1a1a1a">N/A</div>
<div class="t" style="left:331.50px;top:716.32px;width:67.50px;text-align:left;font-size:14px;font-weight:normal;font-style:normal;letter-spacing:1.2px;color:#1a1a1a;-webkit-text-stroke:0.15px #1a1a1a">N/A</div>
<div class="t" style="left:402.50px;top:716.32px;width:67.90px;text-align:left;font-size:14px;font-weight:normal;font-style:normal;letter-spacing:1.2px;color:#1a1a1a;-webkit-text-stroke:0.15px #1a1a1a">N/A</div>
<div class="t" style="left:473.90px;top:716.32px;width:67.10px;text-align:left;font-size:14px;font-weight:normal;font-style:normal;letter-spacing:1.2px;color:#1a1a1a;-webkit-text-stroke:0.15px #1a1a1a">N/A</div>
<div class="t" style="left:544.50px;top:716.32px;width:134.20px;text-align:left;font-size:14px;font-weight:normal;font-style:normal;letter-spacing:1.2px;color:#1a1a1a;-webkit-text-stroke:0.15px #1a1a1a">N/A</div>
<div class="t" style="left:10.50px;top:739.50px;width:159.50px;text-align:left;font-size:14px;font-weight:bold;font-style:italic;letter-spacing:0.1px;">Silver</div>
<div class="t" style="left:170.00px;top:739.50px;width:86.00px;text-align:center;font-size:14px;font-weight:bold;font-style:italic;letter-spacing:0.1px;">Total</div>
<div class="t" style="left:256.20px;top:739.50px;width:68.80px;text-align:right;font-size:14px;font-weight:bold;font-style:italic;letter-spacing:0.1px;">-824</div>
<div class="t" style="left:328.00px;top:739.50px;width:68.00px;text-align:right;font-size:14px;font-weight:bold;font-style:italic;letter-spacing:0.1px;">-191</div>
<div class="t" style="left:399.00px;top:739.50px;width:68.40px;text-align:right;font-size:14px;font-weight:bold;font-style:italic;letter-spacing:0.1px;">-903</div>
<div class="t" style="left:470.40px;top:739.50px;width:67.60px;text-align:right;font-size:14px;font-weight:bold;font-style:italic;letter-spacing:0.1px;">51</div>
<div class="t" style="left:541.00px;top:739.50px;width:135.70px;text-align:right;font-size:14px;font-weight:bold;font-style:italic;letter-spacing:0.1px;">-1867</div>
<div class="t" style="left:10.50px;top:762.20px;width:159.50px;text-align:left;font-size:14px;font-weight:bold;font-style:italic;letter-spacing:0.1px;">Gold</div>
<div class="t" style="left:170.00px;top:762.20px;width:86.00px;text-align:center;font-size:14px;font-weight:bold;font-style:italic;letter-spacing:0.1px;">Total</div>
<div class="t" style="left:256.20px;top:762.20px;width:68.80px;text-align:right;font-size:14px;font-weight:normal;font-style:normal;letter-spacing:0.35px;">-284</div>
<div class="t" style="left:331.50px;top:762.20px;width:67.50px;text-align:left;font-size:14px;font-weight:normal;font-style:normal;letter-spacing:1.2px;color:#1a1a1a;-webkit-text-stroke:0.15px #1a1a1a">N/A</div>
<div class="t" style="left:399.00px;top:762.20px;width:68.40px;text-align:right;font-size:14px;font-weight:normal;font-style:normal;letter-spacing:0.35px;">147</div>
<div class="t" style="left:470.40px;top:762.20px;width:67.60px;text-align:right;font-size:14px;font-weight:normal;font-style:normal;letter-spacing:0.35px;">-229</div>
<div class="t" style="left:541.00px;top:762.20px;width:135.70px;text-align:right;font-size:14px;font-weight:bold;font-style:normal;letter-spacing:0.1px;">-366</div>
<div class="t" style="left:10.50px;top:784.75px;width:159.50px;text-align:left;font-size:14px;font-weight:bold;font-style:italic;letter-spacing:0.1px;">Platinum</div>
<div class="t" style="left:170.00px;top:784.75px;width:86.00px;text-align:center;font-size:14px;font-weight:bold;font-style:italic;letter-spacing:0.1px;">Total</div>
<div class="t" style="left:256.20px;top:784.75px;width:68.80px;text-align:right;font-size:14px;font-weight:normal;font-style:normal;letter-spacing:0.35px;">-36</div>
<div class="t" style="left:331.50px;top:784.75px;width:67.50px;text-align:left;font-size:14px;font-weight:normal;font-style:normal;letter-spacing:1.2px;color:#1a1a1a;-webkit-text-stroke:0.15px #1a1a1a">N/A</div>
<div class="t" style="left:402.50px;top:784.75px;width:67.90px;text-align:left;font-size:14px;font-weight:normal;font-style:normal;letter-spacing:1.2px;color:#1a1a1a;-webkit-text-stroke:0.15px #1a1a1a">N/A</div>
<div class="t" style="left:473.90px;top:784.75px;width:67.10px;text-align:left;font-size:14px;font-weight:normal;font-style:normal;letter-spacing:1.2px;color:#1a1a1a;-webkit-text-stroke:0.15px #1a1a1a">N/A</div>
<div class="t" style="left:541.00px;top:784.75px;width:135.70px;text-align:right;font-size:14px;font-weight:bold;font-style:normal;letter-spacing:0.1px;">-36</div>
<div class="t" style="left:10.50px;top:807.90px;width:159.50px;text-align:left;font-size:14px;font-weight:normal;font-style:normal;letter-spacing:0.35px;">Total</div>
<div class="t" style="left:256.20px;top:807.90px;width:68.80px;text-align:right;font-size:14px;font-weight:bold;font-style:normal;letter-spacing:0.1px;">-1349</div>
<div class="t" style="left:328.00px;top:807.90px;width:68.00px;text-align:right;font-size:14px;font-weight:bold;font-style:normal;letter-spacing:0.1px;">-85</div>
<div class="t" style="left:399.00px;top:807.90px;width:68.40px;text-align:right;font-size:14px;font-weight:bold;font-style:normal;letter-spacing:0.1px;">-438</div>
<div class="t" style="left:470.40px;top:807.90px;width:67.60px;text-align:right;font-size:14px;font-weight:bold;font-style:normal;letter-spacing:0.1px;">-56</div>
<div class="t" style="left:541.00px;top:807.90px;width:135.70px;text-align:right;font-size:14px;font-weight:bold;font-style:normal;letter-spacing:0.1px;">-1928</div>
<div style="position:absolute;left:5.00px;top:425.00px;width:675.00px;height:2.00px;background:#000;"></div>
<div style="position:absolute;left:5.00px;top:825.70px;width:675.00px;height:2.60px;background:#000;"></div>
<div style="position:absolute;left:5.00px;top:425.00px;width:2.00px;height:403.30px;background:#000;"></div>
<div style="position:absolute;left:677.70px;top:425.00px;width:2.00px;height:403.30px;background:#000;"></div>
<div style="position:absolute;left:256.70px;top:448.00px;width:421.30px;height:2.00px;background:#000;"></div>
<div style="position:absolute;left:5.00px;top:507.40px;width:675.00px;height:2.40px;background:#000;"></div>
<div style="position:absolute;left:5.00px;top:529.90px;width:675.00px;height:2.00px;background:rgba(0,0,0,0.74);"></div>
<div style="position:absolute;left:5.00px;top:552.00px;width:675.00px;height:2.00px;background:rgba(0,0,0,0.74);"></div>
<div style="position:absolute;left:5.00px;top:575.90px;width:675.00px;height:2.00px;background:#000;"></div>
<div style="position:absolute;left:5.00px;top:599.10px;width:675.00px;height:2.00px;background:#000;"></div>
<div style="position:absolute;left:5.00px;top:621.20px;width:675.00px;height:2.00px;background:rgba(0,0,0,0.74);"></div>
<div style="position:absolute;left:5.00px;top:643.80px;width:675.00px;height:2.00px;background:rgba(0,0,0,0.74);"></div>
<div style="position:absolute;left:5.00px;top:665.90px;width:675.00px;height:2.00px;background:rgba(0,0,0,0.74);"></div>
<div style="position:absolute;left:5.00px;top:688.40px;width:675.00px;height:2.00px;background:rgba(0,0,0,0.74);"></div>
<div style="position:absolute;left:5.00px;top:710.65px;width:675.00px;height:2.00px;background:rgba(0,0,0,0.74);"></div>
<div style="position:absolute;left:5.00px;top:733.80px;width:675.00px;height:2.00px;background:#000;"></div>
<div style="position:absolute;left:5.00px;top:757.00px;width:675.00px;height:2.00px;background:#000;"></div>
<div style="position:absolute;left:5.00px;top:779.20px;width:675.00px;height:2.00px;background:rgba(0,0,0,0.74);"></div>
<div style="position:absolute;left:5.00px;top:802.10px;width:675.00px;height:2.00px;background:#000;"></div>
<div style="position:absolute;left:169.10px;top:508.60px;width:2.00px;height:317.90px;background:rgba(0,0,0,0.74);"></div>
<div style="position:absolute;left:255.70px;top:425.00px;width:2.00px;height:401.50px;background:#000;"></div>
<div style="position:absolute;left:327.00px;top:448.00px;width:2.00px;height:378.50px;background:rgba(0,0,0,0.74);"></div>
<div style="position:absolute;left:398.00px;top:448.00px;width:2.00px;height:378.50px;background:rgba(0,0,0,0.74);"></div>
<div style="position:absolute;left:469.40px;top:448.00px;width:2.00px;height:378.50px;background:rgba(0,0,0,0.74);"></div>
<div style="position:absolute;left:540.00px;top:448.00px;width:2.00px;height:378.50px;background:#000;"></div>
</body></html>
